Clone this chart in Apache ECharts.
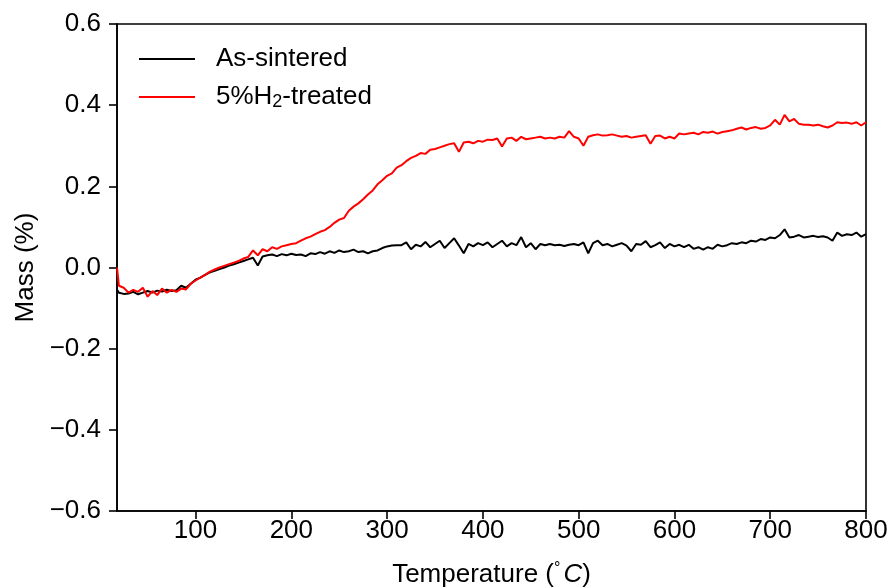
<!DOCTYPE html>
<html>
<head>
<meta charset="utf-8">
<script src="https://cdn.jsdelivr.net/npm/echarts@6/dist/echarts.min.js"></script>
<style>html,body{margin:0;padding:0;background:#fff;}#c{width:893px;height:588px;}</style>
</head>
<body>
<div id="c"></div>
<script>
var temps = [18,
20,25,30,35,40,45,50,55,60,65,
70,75,80,85,90,95,100,105,110,115,
120,125,130,135,140,145,150,155,160,165,
170,175,180,185,190,195,200,205,210,215,
220,225,230,235,240,245,250,255,260,265,
270,275,280,285,290,295,300,305,310,315,
320,325,330,335,340,345,350,355,360,365,
370,375,380,385,390,395,400,405,410,415,
420,425,430,435,440,445,450,455,460,465,
470,475,480,485,490,495,500,505,510,515,
520,525,530,535,540,545,550,555,560,565,
570,575,580,585,590,595,600,605,610,615,
620,625,630,635,640,645,650,655,660,665,
670,675,680,685,690,695,700,705,710,715,
720,725,730,735,740,745,750,755,760,765,
770,775,780,785,790,795,800];

var asSintered = [-0.055,
-0.062,-0.065,-0.064,-0.060,-0.066,-0.062,-0.058,-0.062,-0.057,-0.059,
-0.055,-0.058,-0.056,-0.045,-0.050,-0.040,-0.030,-0.025,-0.018,-0.012,
-0.008,-0.004,0.000,0.005,0.008,0.012,0.016,0.020,0.024,0.005,
0.027,0.030,0.032,0.028,0.033,0.030,0.034,0.031,0.032,0.028,
0.035,0.033,0.038,0.034,0.040,0.036,0.042,0.038,0.040,0.044,
0.038,0.040,0.035,0.040,0.042,0.048,0.052,0.054,0.055,0.055,
0.062,0.045,0.056,0.052,0.063,0.050,0.058,0.066,0.048,0.060,
0.072,0.054,0.035,0.058,0.052,0.060,0.055,0.062,0.050,0.058,
0.066,0.052,0.060,0.055,0.075,0.050,0.060,0.045,0.058,0.055,
0.058,0.055,0.056,0.053,0.056,0.058,0.055,0.062,0.035,0.060,
0.066,0.055,0.058,0.052,0.056,0.060,0.054,0.040,0.058,0.056,
0.065,0.050,0.055,0.062,0.048,0.058,0.052,0.056,0.050,0.056,
0.046,0.050,0.044,0.050,0.046,0.056,0.052,0.055,0.060,0.058,
0.062,0.060,0.066,0.064,0.070,0.068,0.074,0.072,0.080,0.094,
0.074,0.076,0.080,0.074,0.076,0.078,0.075,0.077,0.074,0.066,
0.086,0.078,0.082,0.080,0.086,0.076,0.082];

var h2Treated = [0.000,
-0.045,-0.050,-0.062,-0.055,-0.060,-0.050,-0.072,-0.058,-0.068,-0.052,
-0.062,-0.055,-0.060,-0.052,-0.054,-0.040,-0.032,-0.025,-0.018,-0.010,
-0.005,0.000,0.004,0.008,0.012,0.016,0.022,0.026,0.042,0.030,
0.045,0.040,0.050,0.046,0.052,0.055,0.058,0.060,0.066,0.072,
0.076,0.082,0.088,0.092,0.100,0.110,0.118,0.122,0.140,0.150,
0.158,0.168,0.180,0.190,0.205,0.215,0.226,0.232,0.246,0.252,
0.262,0.270,0.275,0.282,0.280,0.290,0.292,0.296,0.300,0.304,
0.306,0.285,0.308,0.310,0.306,0.312,0.310,0.315,0.314,0.318,
0.298,0.318,0.320,0.312,0.322,0.316,0.318,0.320,0.322,0.318,
0.320,0.318,0.322,0.320,0.336,0.322,0.318,0.300,0.322,0.326,
0.328,0.325,0.326,0.328,0.325,0.322,0.324,0.320,0.322,0.324,
0.326,0.305,0.324,0.325,0.318,0.322,0.318,0.330,0.328,0.330,
0.332,0.328,0.334,0.332,0.335,0.330,0.334,0.336,0.338,0.342,
0.345,0.340,0.344,0.346,0.342,0.344,0.350,0.364,0.352,0.376,
0.360,0.366,0.354,0.352,0.352,0.350,0.352,0.348,0.345,0.350,
0.358,0.356,0.357,0.354,0.358,0.350,0.358];

var xTicks = [100,200,300,400,500,600,700,800];
var seriesNames = ['As-sintered', '5%H2-treated'];

function pairs(xs, ys){ var out=[]; for(var i=0;i<xs.length;i++){ out.push([xs[i], ys[i]]); } return out; }

var font = '"Liberation Sans", Arial, sans-serif';
var FS = 26;
var chart = echarts.init(document.getElementById('c'), null, {renderer:'canvas'});
chart.setOption({
  animation:false,
  backgroundColor:'#fff',
  grid:{left:117, right:27, top:24, bottom:77, containLabel:false, outerBoundsMode:'none', show:true, borderColor:'#000', borderWidth:1.6, backgroundColor:'transparent'},
  legend:{
    left:134, top:41, orient:'vertical', itemWidth:56, itemHeight:2, itemGap:12,
    data:[{name:seriesNames[0], icon:'rect'}, {name:seriesNames[1], icon:'rect'}],
    formatter:function(n){ return n==='5%H2-treated' ? '{t|5%H}{s|2}{t|-treated}' : '{t|'+n+'}'; },
    textStyle:{fontFamily:font, fontSize:FS, color:'#000', padding:[0,0,0,16],
      rich:{t:{fontFamily:font, fontSize:FS, color:'#000'}, s:{fontFamily:font, fontSize:18, color:'#000', padding:[10,0,0,0]}}}
  },
  xAxis:{
    type:'value', min:18, max:800,
    name:'{a|Temperature (}{b|°}{c|C}{a|)}', nameLocation:'middle', nameGap:50,
    nameTextStyle:{rich:{a:{fontFamily:font,fontSize:FS,color:'#000'},b:{fontFamily:font,fontSize:16,color:'#000',padding:[0,3,12,0]},c:{fontFamily:font,fontSize:FS,fontStyle:'italic',color:'#000'}}},
    axisLine:{show:true, onZero:false, lineStyle:{color:'#000', width:1.6}},
    axisTick:{show:true, inside:false, length:8, customValues:xTicks, lineStyle:{color:'#000', width:1.6}},
    axisLabel:{customValues:xTicks, fontFamily:font, fontSize:FS, color:'#000', margin:7},
    splitLine:{show:false}
  },
  yAxis:{
    type:'value', min:-0.6, max:0.6, interval:0.2,
    name:'Mass (%)', nameLocation:'middle', nameGap:70,
    nameTextStyle:{fontFamily:font, fontSize:FS, color:'#000'},
    axisLine:{show:true, onZero:false, lineStyle:{color:'#000', width:1.6}},
    axisTick:{show:true, inside:false, length:8, lineStyle:{color:'#000', width:1.6}},
    axisLabel:{fontFamily:font, fontSize:FS, color:'#000', margin:16,
      formatter:function(v){ var s=Math.abs(v).toFixed(1); return (v < -1e-9 ? '\u2212' : '') + s; }},
    splitLine:{show:false}
  },
  series:[
    {name:seriesNames[0], type:'line', data:pairs(temps, asSintered), symbol:'none', lineStyle:{color:'#000', width:2}, itemStyle:{color:'#000'}, z:2},
    {name:seriesNames[1], type:'line', data:pairs(temps, h2Treated), symbol:'none', lineStyle:{color:'#ff0000', width:2}, itemStyle:{color:'#ff0000'}, z:3}
  ]
});
</script>
</body>
</html>
